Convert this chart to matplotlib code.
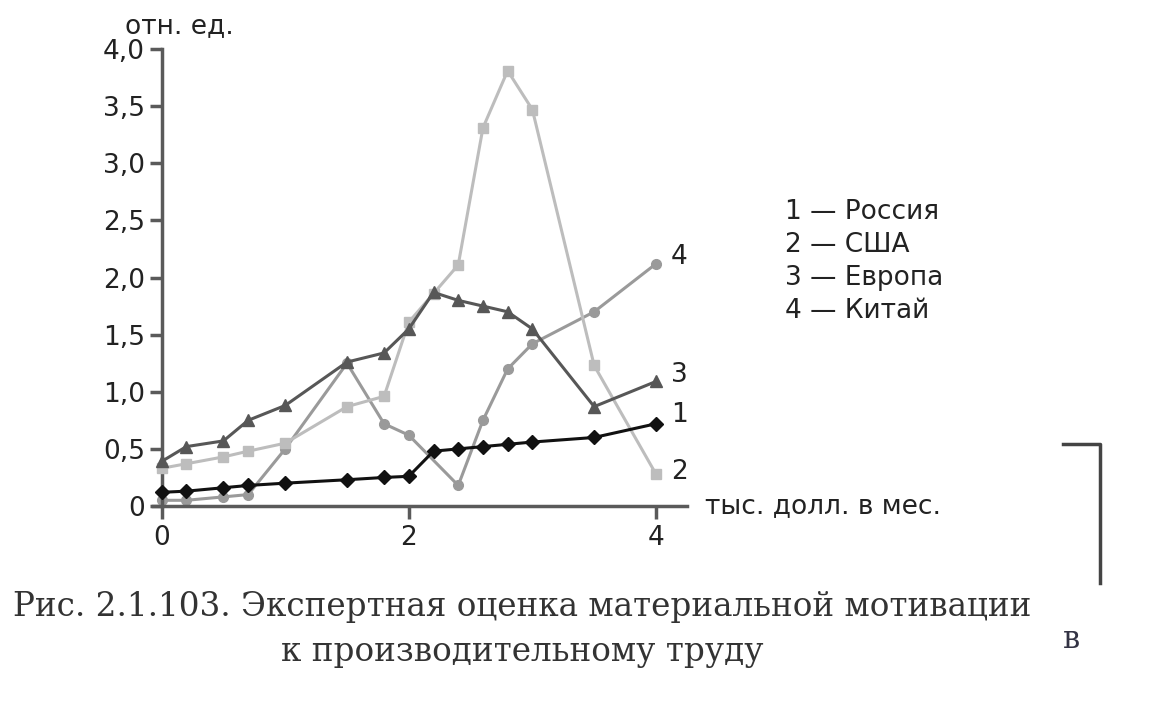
import matplotlib.pyplot as plt
from matplotlib.lines import Line2D

plt.rcParams['font.family'] = ['DejaVu Sans']

# data
x_ru = [0, 0.2, 0.5, 0.7, 1.0, 1.5, 1.8, 2.0, 2.2, 2.4, 2.6, 2.8, 3.0, 3.5, 4.0]
y_ru = [0.12, 0.13, 0.16, 0.18, 0.2, 0.23, 0.25, 0.26, 0.48, 0.5, 0.52, 0.54, 0.56, 0.6, 0.72]

x_us = [0, 0.2, 0.5, 0.7, 1.0, 1.5, 1.8, 2.0, 2.2, 2.4, 2.6, 2.8, 3.0, 3.5, 4.0]
y_us = [0.33, 0.37, 0.43, 0.48, 0.55, 0.87, 0.96, 1.61, 1.86, 2.11, 3.31, 3.81, 3.47, 1.23, 0.28]

x_eu = [0, 0.2, 0.5, 0.7, 1.0, 1.5, 1.8, 2.0, 2.2, 2.4, 2.6, 2.8, 3.0, 3.5, 4.0]
y_eu = [0.39, 0.52, 0.57, 0.75, 0.88, 1.26, 1.34, 1.55, 1.87, 1.8, 1.75, 1.7, 1.55, 0.87, 1.09]

x_cn = [0, 0.2, 0.5, 0.7, 1.0, 1.5, 1.8, 2.0, 2.4, 2.6, 2.8, 3.0, 3.5, 4.0]
y_cn = [0.05, 0.05, 0.08, 0.1, 0.5, 1.25, 0.72, 0.62, 0.18, 0.75, 1.2, 1.42, 1.7, 2.12]

legend_lines = ['1 — Россия', '2 — США', '3 — Европа', '4 — Китай']

fig = plt.figure(figsize=(11.53, 7.2), dpi=100)
ax = fig.add_axes([0.1327, 0.2972, 0.463, 0.6347])

ax.plot(x_cn, y_cn, color='#9a9a9a', lw=2.2, marker='o', ms=7, clip_on=False, zorder=2)
ax.plot(x_us, y_us, color='#bdbdbd', lw=2.2, marker='s', ms=6.5, clip_on=False, zorder=3)
ax.plot(x_eu, y_eu, color='#575757', lw=2.2, marker='^', ms=8, clip_on=False, zorder=4)
ax.plot(x_ru, y_ru, color='#111111', lw=2.2, marker='D', ms=7, clip_on=False, zorder=5)

ax.set_xlim(-0.07, 4.25)
ax.set_ylim(0, 4.0)
ax.spines['left'].set_position(('data', 0))
ax.spines['top'].set_visible(False)
ax.spines['right'].set_visible(False)
for s in ('left', 'bottom'):
    ax.spines[s].set_color('#5a5a5a')
    ax.spines[s].set_linewidth(2.5)

ax.set_xticks([0, 2, 4])
ax.set_xticklabels(['0', '2', '4'])
ax.set_yticks([0, 0.5, 1, 1.5, 2, 2.5, 3, 3.5, 4])
ax.set_yticklabels(['0', '0,5', '1,0', '1,5', '2,0', '2,5', '3,0', '3,5', '4,0'])
ax.tick_params(axis='both', labelsize=19, colors='#5a5a5a', labelcolor='#222222',
               width=2.5, length=9)
ax.tick_params(axis='y', pad=3)
ax.tick_params(axis='x', pad=5)

ax.text(-0.3, 4.2, 'отн. ед.', fontsize=19, color='#222222', va='center', ha='left',
        clip_on=False)
ax.text(4.4, 0.0, 'тыс. долл. в мес.', fontsize=19, color='#222222', va='center',
        ha='left', clip_on=False)

# series numbers at line ends
ax.text(4.12, 2.18, '4', fontsize=19, color='#222222', va='center')
ax.text(4.12, 1.15, '3', fontsize=19, color='#222222', va='center')
ax.text(4.12, 0.8, '1', fontsize=19, color='#222222', va='center')
ax.text(4.12, 0.3, '2', fontsize=19, color='#222222', va='center')

for i, t in enumerate(legend_lines):
    fig.text(785 / 1153, 1 - (212 + i * 33) / 720, t, fontsize=19, color='#222222',
             va='center', ha='left')

fig.text(522 / 1153, 1 - 607 / 720,
         'Рис. 2.1.103. Экспертная оценка материальной мотивации',
         fontsize=23.5, family='DejaVu Serif', color='#333333', ha='center', va='center')
fig.text(522 / 1153, 1 - 652 / 720, 'к производительному труду',
         fontsize=23.5, family='DejaVu Serif', color='#333333', ha='center', va='center')

# stray bracket and letter at right edge of the scan
fig.add_artist(Line2D([1063 / 1153, 1100 / 1153, 1100 / 1153],
                      [1 - 444 / 720, 1 - 444 / 720, 1 - 583 / 720],
                      color='#444444', lw=2.5))
fig.text(1063 / 1153, 1 - 640 / 720, 'в', fontsize=22, family='DejaVu Serif',
         color='#333344', ha='left', va='center')

plt.savefig('out.png', dpi=100)
